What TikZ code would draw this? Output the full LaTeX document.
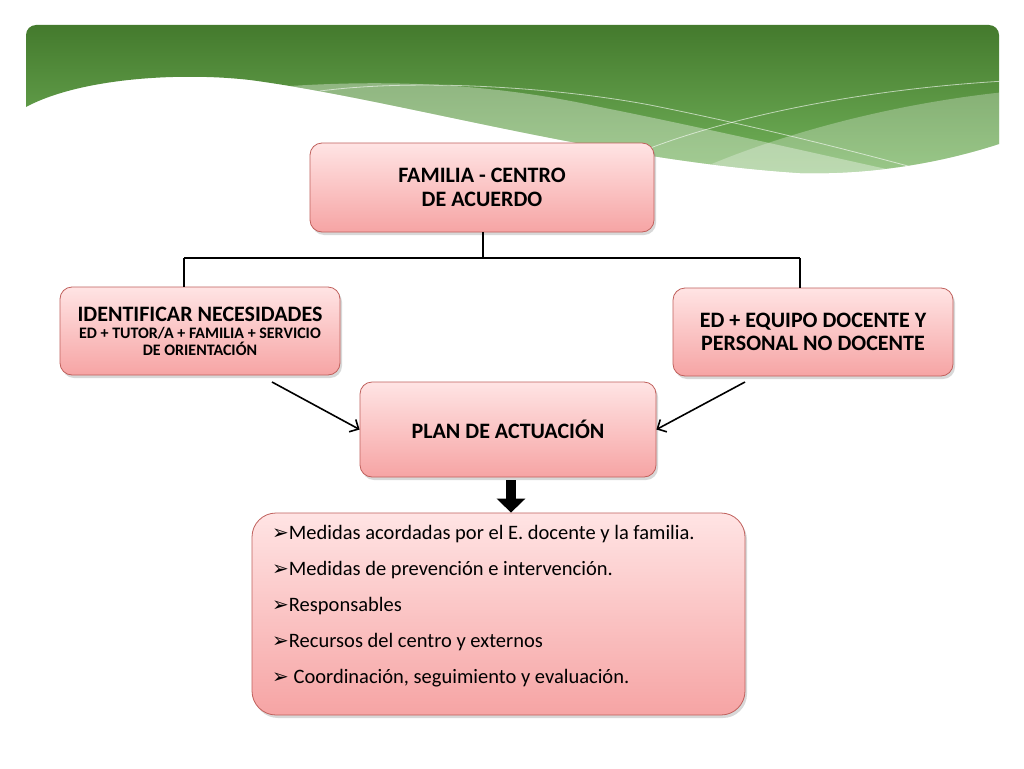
\documentclass[tikz,border=0pt]{standalone}
\usepackage{fontspec}
\setmainfont{Carlito}
\newfontfamily\dejavu{DejaVu Sans}
\usetikzlibrary{arrows.meta,shadows,calc}
\definecolor{boxtop}{HTML}{FFE4E4}
\definecolor{boxbot}{HTML}{F6A4A4}
\definecolor{boxline}{HTML}{C0605C}
\definecolor{gtop}{HTML}{447A2D}
\definecolor{gbot}{HTML}{74B45C}
\newcommand{\bul}{{\dejavu\fontsize{20}{20}\selectfont ➢}}
\begin{document}
\begin{tikzpicture}[x=1pt,y=-1pt,
  pbox/.style={draw=boxline, line width=0.8pt, rounded corners=12pt,
    top color=boxtop, bottom color=boxbot,
    drop shadow={shadow xshift=2pt,shadow yshift=-3pt,opacity=0.3},
    inner sep=0pt, align=center, font=\bfseries},
  link/.style={line width=1.8pt, black},
  arr/.style={line width=1.6pt, -{Straight Barb[length=7pt,width=14pt]}},
  item/.style={anchor=base west, inner sep=0pt, font=\fontsize{20.5}{22}\selectfont},
  thin/.style={white, opacity=0.6, line width=0.8pt},
]
\useasboundingbox (0,0) rectangle (1024,768);
\fill[white] (0,0) rectangle (1024,768);

% banner
\begin{scope}
\clip (26,107) -- (26,35) .. controls (26,29.5) and (30.5,25) .. (36,25) -- (989,25)
  .. controls (994.5,25) and (999,29.5) .. (999,35) -- (999,144)
  .. controls (950,160) and (880,175) .. (800,173)
  .. controls (600,160) and (400,100) .. (250,80)
  .. controls (180,72) and (80,78) .. (26,107) -- cycle;
\shade[top color=gtop, bottom color=gbot] (20,25) rectangle (1005,178);
\fill[white, opacity=0.35] (290,86) .. controls (400,79) and (500,85) .. (600,107)
  .. controls (700,127) and (800,150) .. (900,172) -- (900,210) -- (290,210) -- cycle;
\fill[white, opacity=0.28] (680,178) .. controls (760,140) and (880,105) .. (1005,92) -- (1005,210) -- (680,210) -- cycle;
\draw[thin] (320,91) .. controls (420,78) and (560,88) .. (650,105) .. controls (750,125) and (850,150) .. (930,172);
\draw[thin] (640,152) .. controls (720,120) and (850,90) .. (1005,81);
\end{scope}

% boxes
\node[pbox, minimum width=344pt, minimum height=89pt, font=\bfseries\fontsize{22}{24}\selectfont] (fam) at (482,187.5)
  {FAMILIA - CENTRO\\DE ACUERDO};
\node[pbox, minimum width=280pt, minimum height=88pt] (ide) at (200,331)
  {{\fontsize{22}{22}\selectfont IDENTIFICAR NECESIDADES}\\[5pt]
   {\fontsize{16}{17}\selectfont ED + TUTOR/A + FAMILIA + SERVICIO}\\[2pt]
   {\fontsize{16}{17}\selectfont DE ORIENTACIÓN}};
\node[pbox, minimum width=280pt, minimum height=88pt, font=\bfseries\fontsize{22}{23}\selectfont] (equ) at (813,332)
  {ED + EQUIPO DOCENTE Y\\PERSONAL NO DOCENTE};
\node[pbox, minimum width=296pt, minimum height=95pt, font=\bfseries\fontsize{22}{23}\selectfont] (plan) at (508,429.5)
  {PLAN DE ACTUACIÓN};
\node[pbox, rounded corners=24pt, minimum width=493pt, minimum height=202pt] (list) at (498.5,614) {};

\node[item] (b1) at (272,539) {\bul Medidas acordadas por el E. docente y la familia.};
\node[item] (b2) at (272,575) {\bul Medidas de prevención e intervención.};
\node[item] (b3) at (272,611) {\bul Responsables};
\node[item] (b4) at (272,647) {\bul Recursos del centro y externos};
\node[item] (b5) at (272,683) {\bul\ Coordinación, seguimiento y evaluación.};

% tree connector
\coordinate (j0) at (483,258);
\coordinate (jl) at (184,258);
\coordinate (jr) at (800,258);
\draw[link] (fam.south -| j0) -- (j0);
\draw[link] (jl) -- (jr);
\draw[link] (jl) -- (jl |- ide.north);
\draw[link] (jr) -- (jr |- equ.north);

% arrows into plan
\coordinate (s1) at (272,382);
\coordinate (s2) at (745,382);
\draw[arr] (s1) -- (plan.west);
\draw[arr] (s2) -- (plan.east);

% thick arrow down
\coordinate (t0) at (511,480);
\draw[line width=10pt, -{Triangle[length=14pt,width=28pt]}] (t0) -- (t0 |- list.north);
\end{tikzpicture}
\end{document}
